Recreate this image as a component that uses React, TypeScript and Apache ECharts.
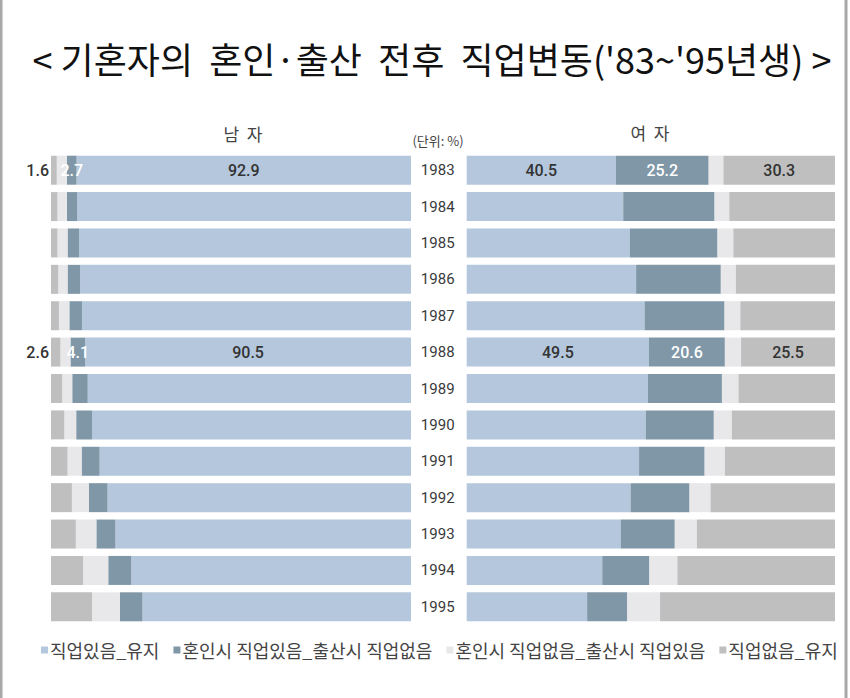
import React, { useEffect, useRef } from "react";
import * as echarts from "echarts";

const years = ["1983","1984","1985","1986","1987","1988","1989","1990","1991","1992","1993","1994","1995"];
const seriesNames = ["직업있음_유지", "혼인시 직업있음_출산시 직업없음", "혼인시 직업없음_출산시 직업있음", "직업없음_유지"];

// 남자
const maleKeep = [92.9, 92.7, 92.2, 91.9, 91.4, 90.5, 89.8, 88.6, 86.5, 84.3, 82.1, 77.7, 74.6];
const maleQuit = [2.7, 2.9, 3.2, 3.5, 3.5, 4.1, 4.3, 4.4, 5.0, 5.2, 5.3, 6.4, 6.3];
const maleReturn = [2.8, 2.6, 2.8, 2.6, 2.9, 2.8, 2.8, 3.3, 3.9, 4.7, 5.7, 7.0, 7.7];
const maleNone = [1.6, 1.8, 1.8, 2.0, 2.2, 2.6, 3.1, 3.7, 4.6, 5.8, 6.9, 8.9, 11.4];

// 여자
const femaleKeep = [40.5, 42.5, 44.3, 46.0, 48.3, 49.5, 49.2, 48.6, 46.8, 44.5, 41.8, 36.8, 32.7];
const femaleQuit = [25.2, 24.8, 23.8, 23.0, 21.7, 20.6, 20.1, 18.5, 17.8, 16.0, 14.7, 12.8, 10.9];
const femaleReturn = [4.0, 4.0, 4.3, 4.1, 4.3, 4.4, 4.5, 4.9, 5.5, 5.7, 6.0, 7.6, 8.9];
const femaleNone = [30.3, 28.7, 27.6, 26.9, 25.7, 25.5, 26.2, 28.0, 29.9, 33.8, 37.5, 42.8, 47.5];

const labeledRows = [0, 5];

const colors = ["#b4c7dd", "#7f97a7", "#e8e8ea", "#bfbfbf"];
const labelColors = ["#333333", "#ffffff", "#333333", "#333333"];
const numFont = "'Roboto', sans-serif";
const krFont = "'Noto Sans CJK KR', sans-serif";

export default function App() {
  const ref = useRef<HTMLDivElement>(null);
  useEffect(() => {
    document.body.style.margin = "0";
    const chart = echarts.init(ref.current!, null, { renderer: "svg" });

    const mk = (grid: number, idx: number, data: number[], posOverride?: string) => ({
      name: seriesNames[idx],
      type: "bar",
      stack: grid === 0 ? "male" : "female",
      xAxisIndex: grid,
      yAxisIndex: grid,
      barWidth: 29,
      data,
      itemStyle: { color: colors[idx] },
      label: {
        show: idx !== 2,
        position: posOverride || "inside",
        color: labelColors[idx],
        fontFamily: numFont,
        fontSize: 16,
        fontWeight: 500,
        distance: 2,
        formatter: (p: any) => (labeledRows.includes(p.dataIndex) ? Number(p.value).toFixed(1) : ""),
      },
    });

    const option: any = {
      animation: false,
      backgroundColor: "#ffffff",
      grid: [
        { left: 51, width: 360, top: 152, height: 473 },
        { left: 466.7, width: 368.3, top: 152, height: 473 },
      ],
      xAxis: [
        { type: "value", gridIndex: 0, min: 0, max: 100, inverse: true, show: false },
        { type: "value", gridIndex: 1, min: 0, max: 100, show: false },
      ],
      yAxis: [
        { type: "category", gridIndex: 0, data: years, inverse: true, show: false },
        {
          type: "category",
          gridIndex: 1,
          data: years,
          inverse: true,
          axisLine: { show: false },
          axisTick: { show: false },
          axisLabel: {
            show: true,
            align: "center",
            margin: 29,
            color: "#3a3a3a",
            fontFamily: numFont,
            fontSize: 15,
          },
        },
      ],
      legend: {
        data: seriesNames,
        left: 36,
        top: 636,
        icon: "rect",
        itemWidth: 7,
        itemHeight: 7,
        itemGap: 14,
        textStyle: { color: "#444", fontSize: 18, fontFamily: krFont, padding: [0, 0, 0, -3] },
      },
      graphic: [
        {
          type: "text",
          x: 432,
          y: 58,
          style: {
            text: "< 기혼자의  혼인·출산  전후  직업변동('83~'95년생) >",
            fontSize: 36,
            fontFamily: krFont,
            fill: "#111",
            align: "center",
            verticalAlign: "middle",
          },
        },
        {
          type: "text",
          x: 243,
          y: 133,
          style: { text: "남  자", fontSize: 17, fontFamily: krFont, fill: "#444", align: "center", verticalAlign: "middle" },
        },
        {
          type: "text",
          x: 650,
          y: 132,
          style: { text: "여  자", fontSize: 17, fontFamily: krFont, fill: "#444", align: "center", verticalAlign: "middle" },
        },
        {
          type: "text",
          x: 438,
          y: 140,
          style: { text: "(단위: %)", fontSize: 13, fontFamily: krFont, fill: "#444", align: "center", verticalAlign: "middle" },
        },
        { type: "line", shape: { x1: 1, y1: 0, x2: 1, y2: 698 }, style: { stroke: "#a8a8a8", lineWidth: 3 } },
        { type: "line", shape: { x1: 846, y1: 0, x2: 846, y2: 698 }, style: { stroke: "#a8a8a8", lineWidth: 3 } },
      ],
      series: [
        mk(0, 0, maleKeep),
        mk(0, 1, maleQuit),
        mk(0, 2, maleReturn),
        mk(0, 3, maleNone, "left"),
        mk(1, 0, femaleKeep),
        mk(1, 1, femaleQuit),
        mk(1, 2, femaleReturn),
        mk(1, 3, femaleNone),
      ],
    };
    chart.setOption(option);
    return () => chart.dispose();
  }, []);
  return <div ref={ref} style={{ width: 850, height: 698 }} />;
}
